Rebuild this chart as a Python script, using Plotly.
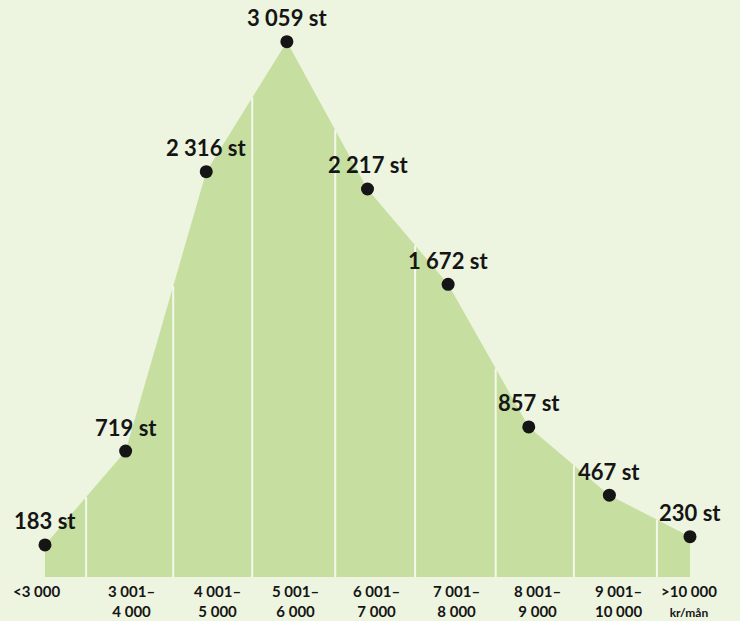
import numpy as np
import plotly.graph_objects as go

# --- data ---
categories = ["<3 000", "3 001–<br>4 000", "4 001–<br>5 000", "5 001–<br>6 000",
              "6 001–<br>7 000", "7 001–<br>8 000", "8 001–<br>9 000",
              "9 001–<br>10 000", ">10 000<br><span style='font-size:12px'>kr/mån</span>"]
counts = [183, 719, 2316, 3059, 2217, 1672, 857, 467, 230]
count_labels = ["183 st", "719 st", "2 316 st", "3 059 st", "2 217 st",
                "1 672 st", "857 st", "467 st", "230 st"]

# decorative divider positions (in category-index units)
dividers = [0.51, 1.59, 2.57, 3.60, 4.59, 5.59, 6.56, 7.59]
label_dx = [-9, 6, 11, 9, 9, 8, 9, 9, -1]

BG = "#edf4df"
FILL = "#c6dfa0"
INK = "#151515"
FONT = "Lato"

x = np.arange(len(counts))

fig = go.Figure()
fig.add_trace(go.Scatter(x=x, y=counts, mode="lines", line=dict(width=0, color=FILL),
                         fill="tozeroy", fillcolor=FILL, hoverinfo="skip"))

for d in dividers:
    top = float(np.interp(d, x, counts))
    fig.add_trace(go.Scatter(x=[d, d], y=[0, top], mode="lines",
                             line=dict(color="#f4f8ec", width=2), hoverinfo="skip"))

fig.add_trace(go.Scatter(x=x, y=counts, mode="markers",
                         marker=dict(size=13, color=INK), hoverinfo="skip"))

annotations = []
for xi, v, lab in zip(x, counts, count_labels):
    annotations.append(dict(x=xi, y=v, xref="x", yref="y", text=lab, showarrow=False,
                            xanchor="center", yanchor="middle", yshift=24,
                            font=dict(family=FONT, size=22, color=INK, weight="bold")))
for xi, cat, dx in zip(x, categories, label_dx):
    annotations.append(dict(x=xi, y=1 - 580 / 621, xref="x", yref="paper", text=cat,
                            showarrow=False, xanchor="center", yanchor="top", xshift=dx,
                            align="center",
                            font=dict(family=FONT, size=15, color=INK, weight="bold")))

fig.update_layout(
    width=740, height=621,
    margin=dict(l=0, r=0, t=0, b=0),
    paper_bgcolor=BG, plot_bgcolor=BG,
    showlegend=False,
    xaxis=dict(range=[-45 / 80.625, 8 + 50 / 80.625], visible=False, fixedrange=True),
    yaxis=dict(range=[-252, 3297], visible=False, fixedrange=True),
    annotations=annotations,
)

fig.write_html("out.html")
